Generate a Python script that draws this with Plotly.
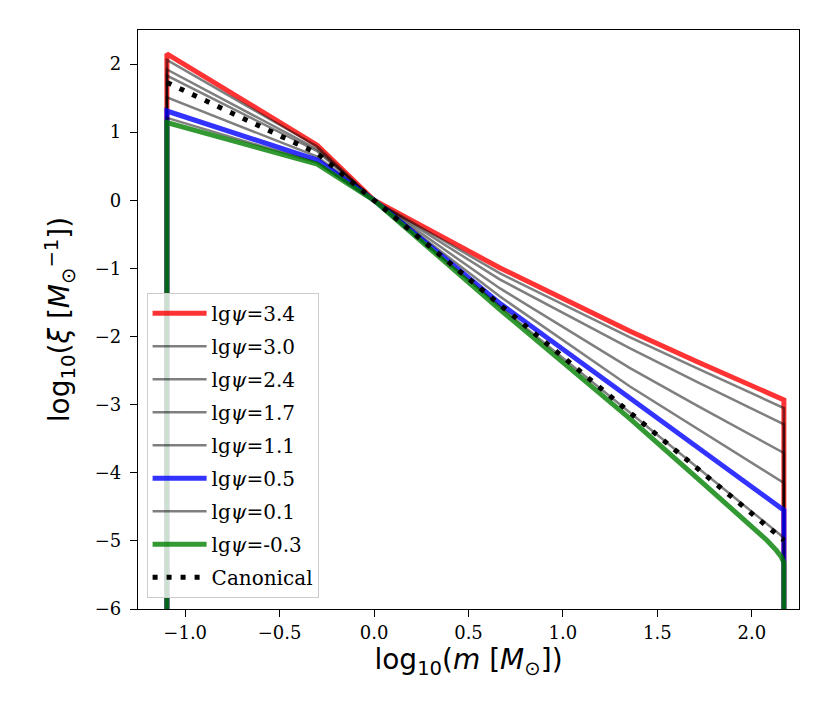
import plotly.graph_objs as go

# log10(m) nodes, lower and upper mass limits included
log_m = [-1.097, -0.301, 0.0, 0.665, 1.353, 1.72, 2.08, 2.13, 2.155, 2.17]
log_xi_zero = -9.0   # xi = 0 outside the mass range

labels = ['lg<i>ψ</i>=3.4', 'lg<i>ψ</i>=3.0', 'lg<i>ψ</i>=2.4', 'lg<i>ψ</i>=1.7', 'lg<i>ψ</i>=1.1',
          'lg<i>ψ</i>=0.5', 'lg<i>ψ</i>=0.1', 'lg<i>ψ</i>=-0.3', 'Canonical']

xi_34 = [2.15, 0.81, 0.0, -0.99, -1.92, -2.38, -2.83, -2.88, -2.91, -2.93]
xi_30 = [2.06, 0.79, 0.0, -1.07, -2.01, -2.48, -2.94, -3.00, -3.03, -3.05]
xi_24 = [1.92, 0.75, 0.0, -1.16, -2.17, -2.68, -3.17, -3.24, -3.27, -3.29]
xi_17 = [1.83, 0.72, 0.0, -1.29, -2.46, -3.03, -3.58, -3.65, -3.69, -3.71]
xi_11 = [1.51, 0.64, 0.0, -1.41, -2.73, -3.37, -4.00, -4.08, -4.12, -4.15]
xi_05 = [1.31, 0.59, 0.0, -1.51, -2.90, -3.64, -4.37, -4.47, -4.52, -4.55]
xi_01 = [1.21, 0.55, 0.0, -1.56, -3.12, -3.94, -4.75, -4.86, -4.92, -4.97]
xi_m03 = [1.14, 0.53, 0.0, -1.60, -3.20, -4.10, -4.99, -5.14, -5.23, -5.32]
xi_canon = [1.73, 0.69, 0.0, -1.53, -3.11, -3.96, -4.78, -4.90, -4.96, -4.99]

series = [xi_34, xi_30, xi_24, xi_17, xi_11, xi_05, xi_01, xi_m03, xi_canon]

gray = dict(color='rgba(0,0,0,0.5)', width=2.5)
styles = [dict(color='rgba(255,0,0,0.8)', width=5),
          gray, gray, gray, gray,
          dict(color='rgba(0,0,255,0.8)', width=5),
          gray,
          dict(color='rgba(0,128,0,0.8)', width=5),
          dict(color='black', width=5, dash='5px,9px')]

fig = go.Figure()
for i in range(len(series)):
    if labels[i] == 'Canonical':
        xs = log_m
        ys = series[i]
    else:
        # drop to zero at both mass limits
        xs = [log_m[0]] + log_m + [log_m[-1]]
        ys = [log_xi_zero] + series[i] + [log_xi_zero]
    fig.add_trace(go.Scatter(x=xs, y=ys, mode='lines', name=labels[i],
                             line=styles[i], legendgroup='g%i' % i))

axis_font = dict(family='DejaVu Serif', size=18, color='black')
fig.update_layout(
    width=822, height=719
    , margin=dict(l=130, r=31, t=22, b=118)
    , plot_bgcolor='white', paper_bgcolor='white'
    , xaxis=dict(
        range=[-1.25, 2.25]
        , tickmode='linear', tick0=0, dtick=0.5, tickformat='.1f'
        , showgrid=False, zeroline=False
        , showline=True, linecolor='black', linewidth=1.3, mirror=True
        , ticks='outside', ticklen=7, tickwidth=1.3, tickcolor='black'
        , tickfont=axis_font, ticklabelstandoff=0
        , automargin=False
        , title=dict(text='log<sub>10</sub>(<i>m</i> [<i>M</i><sub>⊙</sub>])'
                     , font=dict(family='DejaVu Sans', size=28, color='black'), standoff=0))
    , yaxis=dict(
        range=[-6, 2.5]
        , tickmode='linear', tick0=0, dtick=1
        , showgrid=False, zeroline=False
        , showline=True, linecolor='black', linewidth=1.3, mirror=True
        , ticks='outside', ticklen=7, tickwidth=1.3, tickcolor='black'
        , tickfont=axis_font, ticklabelstandoff=5
        , automargin=False
        , title=dict(text='log<sub>10</sub>(<i>ξ</i> [<i>M</i><sub>⊙</sub><sup>−1</sup>])'
                     , font=dict(family='DejaVu Sans', size=28, color='black'), standoff=16))
    , legend=dict(
        x=0.013, y=0.0195, xanchor='left', yanchor='bottom'
        , bgcolor='rgba(255,255,255,0.8)', bordercolor='#cccccc', borderwidth=1
        , font=dict(family='DejaVu Serif', size=20, color='black')
        , tracegroupgap=4, itemwidth=54)
    , showlegend=True
)

fig.write_html("out.html")
